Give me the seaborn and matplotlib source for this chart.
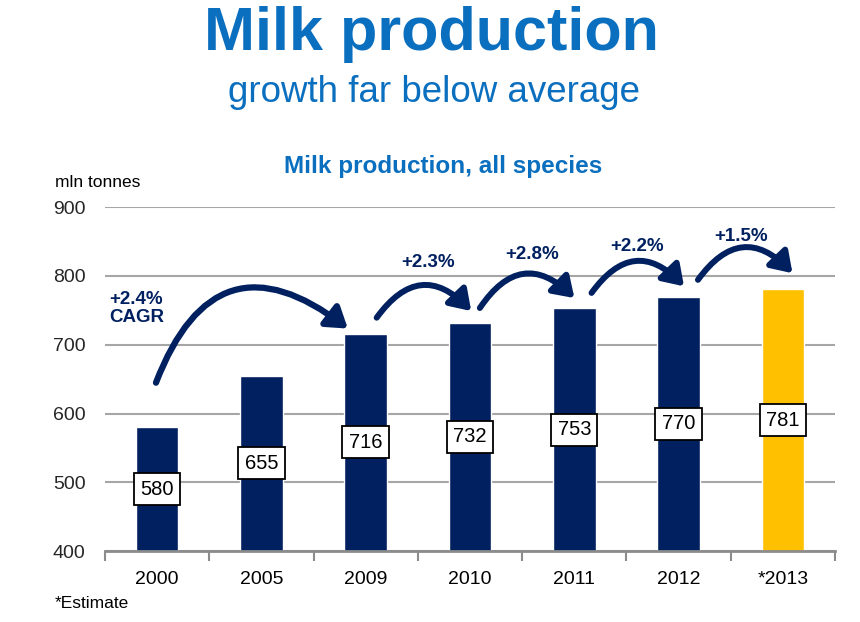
import matplotlib.pyplot as plt
import seaborn as sns
import pandas as pd
from matplotlib.patches import FancyArrowPatch

# --- Data ---
years = ["2000", "2005", "2009", "2010", "2011", "2012", "*2013"]
production = [580, 655, 716, 732, 753, 770, 781]
bar_colors = ["#002060"] * 6 + ["#FFC000"]

# growth between consecutive columns (2009->2010, ..., 2012->2013)
growth_labels = ["+2.3%", "+2.8%", "+2.2%", "+1.5%"]
cagr_label = "+2.4%\nCAGR"

NAVY = "#002060"
BLUE = "#0B6FBF"

sns.set_theme(style="white")
plt.rcParams["font.family"] = ["Liberation Sans", "DejaVu Sans"]

df = pd.DataFrame({"year": years, "value": production})

fig = plt.figure(figsize=(8.6, 6.22), dpi=100)
ax = fig.add_axes([0.122, 0.114, 0.849, 0.553])

sns.barplot(data=df, x="year", y="value", hue="year", palette=bar_colors,
            width=0.41, legend=False, ax=ax, saturation=1)

ax.set_ylim(400, 900)
ax.set_xlim(-0.5, len(years) - 0.5)
ax.set_yticks(range(400, 901, 100))
ax.yaxis.grid(True, color="#A6A6A6", lw=1.5)
ax.set_axisbelow(True)
for s in ["top", "right", "left"]:
    ax.spines[s].set_visible(False)
ax.spines["bottom"].set_color("#8C8C8C")
ax.spines["bottom"].set_linewidth(2)
ax.set_xlabel("")
ax.set_ylabel("")
ax.set_xticks([i - 0.5 for i in range(len(years) + 1)])
ax.set_xticklabels([])
ax.tick_params(axis="x", length=7, width=1.5, color="#8C8C8C",
               direction="out", bottom=True)
for i, y in enumerate(years):
    ax.text(i, 358, y, ha="center", va="center", fontsize=14, color="black")
ax.tick_params(axis="y", labelsize=14, length=0, pad=14)

# value boxes in the middle of each bar
for i, v in enumerate(production):
    ax.text(i, (400 + v) / 2, str(v), ha="center", va="center", fontsize=14.5,
            color="black",
            bbox=dict(boxstyle="square,pad=0.32", fc="white", ec="black", lw=1.3))

# small growth arrows between consecutive years
arrow_pts = [((2.09, 736), (3.03, 746)),
             ((3.08, 750), (4.02, 765)),
             ((4.15, 772), (5.07, 782)),
             ((5.17, 791), (6.11, 801))]
text_pts = [(2.6, 820), (3.6, 831), (4.6, 843), (5.6, 857)]
for (p0, p1), lbl, tp in zip(arrow_pts, growth_labels, text_pts):
    ax.add_patch(FancyArrowPatch(p0, p1, connectionstyle="arc3,rad=-0.62",
                                 arrowstyle="-|>,head_length=12,head_width=8",
                                 color=NAVY, lw=4.3, clip_on=False))
    ax.text(tp[0], tp[1], lbl, ha="center", va="center", fontsize=13.5,
            fontweight="bold", color=NAVY)

# large CAGR arrow 2000 -> 2009
ax.add_patch(FancyArrowPatch((-0.02, 641), (1.85, 721),
                             connectionstyle="arc3,rad=-0.68",
                             arrowstyle="-|>,head_length=12,head_width=8",
                             color=NAVY, lw=4.5))
ax.text(-0.46, 753, cagr_label, ha="left", va="center", fontsize=13.5,
        fontweight="bold", color=NAVY, linespacing=1.05)

# titles and notes
fig.text(0.502, 0.945, "Milk production", ha="center", va="center",
         fontsize=44, fontweight="bold", color=BLUE)
fig.text(0.505, 0.852, "growth far below average", ha="center", va="center",
         fontsize=26.5, color=BLUE)
fig.text(0.515, 0.733, "Milk production, all species", ha="center", va="center",
         fontsize=17.5, fontweight="bold", color=BLUE)
fig.text(0.064, 0.706, "mln tonnes", ha="left", va="center", fontsize=12.5,
         color="black")
fig.text(0.064, 0.030, "*Estimate", ha="left", va="center", fontsize=12.5,
         color="black")

fig.savefig("out.png", dpi=100)
